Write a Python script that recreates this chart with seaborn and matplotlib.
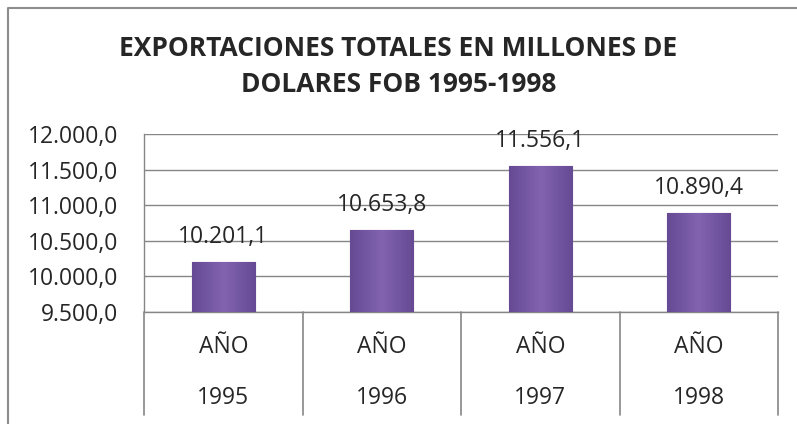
import numpy as np
import matplotlib.pyplot as plt
import seaborn as sns
from matplotlib.lines import Line2D
from matplotlib.colors import LinearSegmentedColormap

years = ["1995", "1996", "1997", "1998"]
level_label = "AÑO"
values = [10201.1, 10653.8, 11556.1, 10890.4]
y_ticks = [9500, 10000, 10500, 11000, 11500, 12000]
title_lines = ["EXPORTACIONES TOTALES EN MILLONES DE", "DOLARES FOB 1995-1998"]


def es_fmt(v):
    # spanish style: 10.201,1
    s = f"{v:,.1f}"
    return s.replace(",", "X").replace(".", ",").replace("X", ".")


sns.set_style("white")
plt.rcParams['font.family'] = ['Open Sans', 'DejaVu Sans']
fs = 16.5

fig = plt.figure(figsize=(7.97, 4.24), dpi=100)
ax = fig.add_axes([0.1807, 0.2642, 0.7955, 0.4198])

sns.barplot(x=years, y=values, color="#7556a3", width=0.4, ax=ax,
            edgecolor="#4d3473", linewidth=0.8, zorder=3)

# soft gradient on the bars
grad = np.linspace(0, 1, 100)
grad = 1 - np.abs(grad - 0.5) * 2
cmap = LinearSegmentedColormap.from_list("bar", ["#664a94", "#8163b0"])
for p in ax.patches:
    im = ax.imshow(grad[np.newaxis, :], cmap=cmap, aspect="auto",
                   extent=[p.get_x(), p.get_x() + p.get_width(), 9500, p.get_height()],
                   zorder=3.5)
    im.set_clip_path(p)

ax.set_xlim(-0.5, len(years) - 0.5)
ax.set_ylim(y_ticks[0], y_ticks[-1])
ax.set_yticks(y_ticks)
ax.set_yticklabels([es_fmt(v) for v in y_ticks], fontsize=fs)
ax.tick_params(axis="y", length=0, pad=18.5)
ax.set_xticks([])
ax.grid(axis="y", color="#868686", linewidth=1, zorder=0)
ax.set_axisbelow(True)

for side in ["top", "right"]:
    ax.spines[side].set_visible(False)
ax.spines["left"].set_color("#868686")
ax.spines["bottom"].set_color("#868686")
ax.spines["left"].set_linewidth(1)
ax.spines["bottom"].set_linewidth(1)

# value labels
for i, v in enumerate(values):
    ax.annotate(es_fmt(v), (i, v), xytext=(0, 18), textcoords="offset points",
                ha="center", va="center", fontsize=fs, zorder=5)

# multi-level category axis
trans = ax.get_xaxis_transform()
for i, yr in enumerate(years):
    ax.text(i, -0.197, level_label, transform=trans, ha="center", va="center",
            fontsize=fs, clip_on=False)
    ax.text(i, -0.483, yr, transform=trans, ha="center", va="center",
            fontsize=fs, clip_on=False)
for xs in np.arange(-0.5, len(years), 1.0):
    ax.plot([xs, xs], [0, -0.579], transform=trans, color="#868686",
            linewidth=1.2, clip_on=False)

# title
fig.text(0.5, 1 - 48 / 424, title_lines[0], ha="center", va="center",
         fontsize=19, fontweight="bold")
fig.text(0.5, 1 - 84 / 424, title_lines[1], ha="center", va="center",
         fontsize=19, fontweight="bold")

# chart frame
fig.add_artist(Line2D([8 / 797, 8 / 797, 1], [0, 1 - 8 / 424, 1 - 8 / 424],
                      transform=fig.transFigure, color="#8c8c8c", linewidth=1.5))

fig.savefig("out.png", dpi=100)
